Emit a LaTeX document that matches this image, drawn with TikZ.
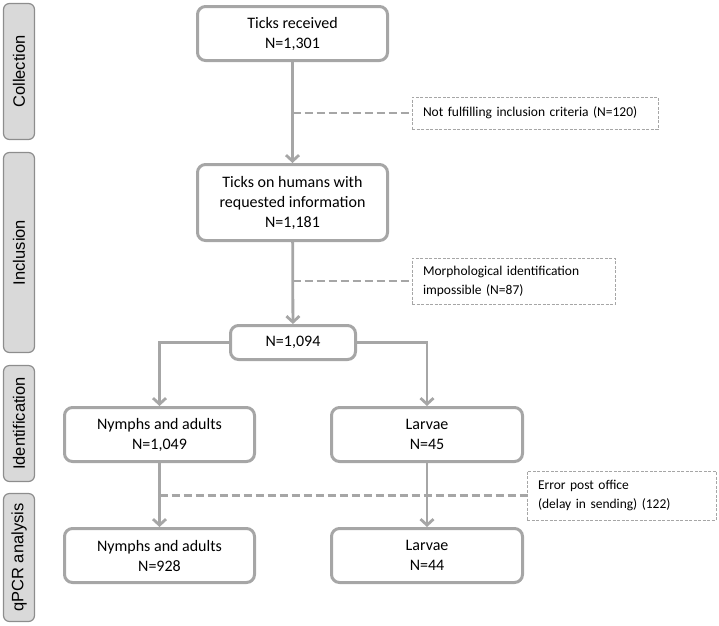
\documentclass[tikz,border=0pt]{standalone}
\usepackage{fontspec}
\setmainfont{Carlito}
\newfontfamily\sidefont{Liberation Sans}
\usetikzlibrary{arrows.meta}
\definecolor{boxgray}{HTML}{A6A6A6}
\definecolor{sidefill}{HTML}{D9D9D9}
\begin{document}
\begin{tikzpicture}[x=1pt,y=-1pt,
  stagebox/.style={draw=boxgray,line width=3pt,rounded corners=8pt,
    align=center,inner sep=0pt,font=\fontsize{16}{20}\selectfont},
  sidebox/.style={draw=boxgray!85!black,fill=sidefill,line width=1.2pt,
    rounded corners=6pt,rotate=90,minimum height=31pt,inner sep=0pt,
    font=\sidefont\fontsize{16.5}{20}\selectfont},
  notebox/.style={draw=boxgray,line width=0.8pt,dash pattern=on 3pt off 1.5pt,
    align=left,inner xsep=11pt,inner ysep=0pt,
    font=\fontsize{13.5}{19}\selectfont},
  arr/.style={draw=boxgray,line width=2.8pt,
    -{Straight Barb[length=6pt,width=13pt]}},
  link/.style={draw=boxgray,line width=2.8pt,dash pattern=on 8pt off 4pt}]
  \useasboundingbox (0,0) rectangle (719,625);
  % stage labels on the left
  \node[sidebox,minimum width=136pt] (collect) at (19,71.5) {Collection};
  \node[sidebox,minimum width=200pt] (incl) at (19,252.5) {Inclusion};
  \node[sidebox,minimum width=116pt] (ident) at (19,423.5) {Identification};
  \node[sidebox,minimum width=128pt] (qpcr) at (19,557.5) {qPCR analysis};
  % main flow
  \node[stagebox,minimum width=190pt,minimum height=54pt]
    (recv) at (292.5,33.5) {Ticks received\\N=1,301};
  \node[stagebox,minimum width=190pt,minimum height=76pt]
    (human) at (292.5,202.5) {Ticks on humans with\\requested information\\N=1,181};
  \node[stagebox,minimum width=125pt,minimum height=34pt]
    (ident1094) at (293,342.5) {N=1,094};
  \node[stagebox,minimum width=190pt,minimum height=54pt]
    (nymphA) at (159.5,434.5) {Nymphs and adults\\N=1,049};
  \node[stagebox,minimum width=191pt,minimum height=54pt]
    (larvaA) at (427,434.5) {Larvae\\N=45};
  \node[stagebox,minimum width=190pt,minimum height=54pt]
    (nymphB) at (159.5,555.5) {Nymphs and adults\\N=928};
  \node[stagebox,minimum width=191pt,minimum height=54pt]
    (larvaB) at (427,555.5) {Larvae\\N=44};
  % excluded ticks
  \node[notebox,text width=224pt,minimum height=32pt]
    (excl1) at (535,113) {Not fulfilling inclusion criteria (N=120)};
  \node[notebox,text width=181pt,minimum height=46pt]
    (excl2) at (513.5,281) {Morphological identification\\impossible (N=87)};
  \node[notebox,text width=167pt,minimum height=49pt]
    (excl3) at (621.5,495.5) {Error post office\\(delay in sending) (122)};
  % connectors
  \draw[arr] (recv) -- (human);
  \draw[arr] (human) -- (ident1094);
  \draw[arr] (ident1094.west) -| (nymphA.north);
  \draw[arr] (ident1094.east) -| (larvaA.north);
  \draw[arr] (nymphA) -- (nymphB);
  \draw[arr] (larvaA) -- (larvaB);
  \coordinate (cut1) at (recv.south |- excl1.west);
  \coordinate (cut2) at (human.south |- excl2.west);
  \coordinate (cut3) at (nymphA.south |- excl3.west);
  \draw[link] (cut1) -- (excl1.west);
  \draw[link] (cut2) -- (excl2.west);
  \draw[link] (cut3) -- (excl3.west);
\end{tikzpicture}
\end{document}
